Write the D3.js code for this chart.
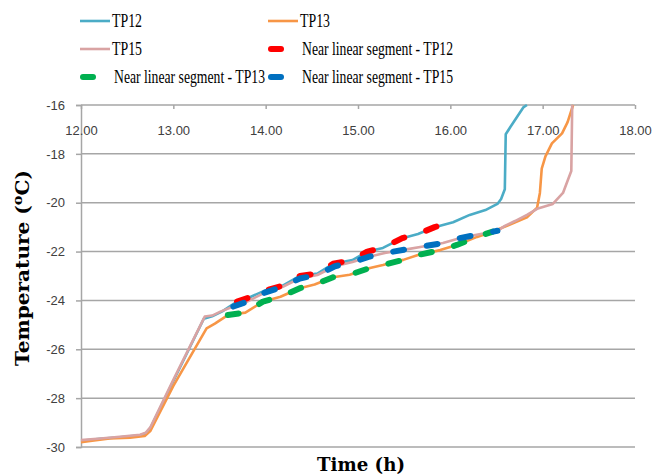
<!DOCTYPE html>
<html>
<head>
<meta charset="utf-8">
<script src="https://cdn.jsdelivr.net/npm/d3@7"></script>
<style>
  body { margin: 0; background: #fff; }
  svg { display: block; }
</style>
</head>
<body>
<script>
var w = 656;
var h = 476;

// temperature probes: [time (h), temperature (oC)]
var tp12 = [
    [12.00, -29.75], [12.21, -29.66], [12.42, -29.60], [12.64, -29.52], [12.70, -29.45],
    [12.75, -29.25], [13.00, -27.30], [13.33, -24.75], [13.42, -24.65], [13.53, -24.45],
    [13.69, -24.05], [13.81, -23.90], [13.99, -23.60], [14.18, -23.40], [14.37, -23.00],
    [14.56, -22.90], [14.73, -22.50], [14.94, -22.35], [15.10, -22.00], [15.27, -21.85],
    [15.48, -21.45], [15.65, -21.28], [15.83, -21.00], [16.03, -20.80], [16.21, -20.50],
    [16.38, -20.30], [16.51, -20.05], [16.55, -19.85], [16.59, -19.45], [16.60, -17.20],
    [16.65, -16.90], [16.72, -16.50], [16.79, -16.10], [16.83, -16.00]
];
var tp13 = [
    [12.00, -29.80], [12.10, -29.75], [12.31, -29.65], [12.53, -29.62], [12.69, -29.55],
    [12.75, -29.35], [13.00, -27.50], [13.36, -25.14], [13.45, -24.95], [13.59, -24.60],
    [13.78, -24.50], [13.97, -24.05], [14.16, -23.85], [14.37, -23.50], [14.53, -23.35],
    [14.73, -23.05], [14.91, -22.95], [15.13, -22.67], [15.27, -22.55], [15.49, -22.34],
    [15.65, -22.14], [15.89, -21.94], [16.07, -21.73], [16.29, -21.40], [16.46, -21.18],
    [16.64, -20.90], [16.83, -20.60], [16.94, -20.20], [16.97, -19.60], [16.99, -18.60],
    [17.03, -18.10], [17.10, -17.57], [17.21, -17.16], [17.27, -16.70], [17.33, -16.00]
];
var tp15 = [
    [12.00, -29.72], [12.21, -29.65], [12.42, -29.58], [12.64, -29.50], [12.70, -29.42],
    [12.75, -29.20], [13.00, -27.25], [13.34, -24.66], [13.42, -24.62], [13.51, -24.46],
    [13.65, -24.25], [13.80, -24.05], [13.99, -23.68], [14.18, -23.45], [14.37, -23.10],
    [14.56, -22.96], [14.75, -22.60], [14.94, -22.43], [15.13, -22.20], [15.29, -22.06],
    [15.54, -21.90], [15.69, -21.80], [15.92, -21.65], [16.10, -21.45], [16.30, -21.30],
    [16.51, -21.15], [16.59, -20.95], [16.70, -20.75], [16.83, -20.50], [16.94, -20.25],
    [17.11, -20.05], [17.22, -19.60], [17.27, -19.10], [17.31, -18.70], [17.32, -16.00]
];

// near linear segments (time window on each probe)
var segStart = [13.65, 13.59, 13.65];
var segEnd = [16.03, 16.46, 16.51];

var seriesNames = ["TP12", "TP13", "TP15"];
var seriesColors = ["#4bacc6", "#f79646", "#d9a3a3"];
var segColors = ["#ff0000", "#00b050", "#0070c0"];

var xTicks = [12, 13, 14, 15, 16, 17, 18];
var yTicks = [-30, -28, -26, -24, -22, -20, -18, -16];

var svg = d3.select("body")
    .append("svg")
    .attr("width", w)
    .attr("height", h);

var xScale = d3.scaleLinear()
    .domain([12, 18])
    .range([81, 635]);

var yScale = d3.scaleLinear()
    .domain([-30, -16])
    .range([447, 105]);

// horizontal gridlines
svg.selectAll("line.grid")
    .data(yTicks)
    .enter()
    .append("line")
    .attr("class", "grid")
    .attr("x1", xScale(12))
    .attr("x2", xScale(18))
    .attr("y1", function(d) { return yScale(d); })
    .attr("y2", function(d) { return yScale(d); })
    .attr("stroke", "#a6a6a6")
    .attr("stroke-width", 1.5);

// y axis on the left
var yAxis = svg.append("g")
    .attr("transform", "translate(" + xScale(12) + ",0)")
    .call(d3.axisLeft(yScale)
        .tickValues(yTicks)
        .tickSize(5)
        .tickPadding(11)
        .tickFormat(function(d) { return String(d); }));
yAxis.select(".domain").attr("stroke", "#a6a6a6").attr("stroke-width", 1.5);
yAxis.selectAll(".tick line").attr("stroke", "#a6a6a6").attr("stroke-width", 1.5);
yAxis.selectAll("text")
    .attr("fill", "#404040")
    .style("font-family", "'Liberation Sans', Arial, sans-serif")
    .style("font-size", "13px");

// x axis sits at the top (-16 line), labels just below it
var xAxis = svg.append("g")
    .attr("transform", "translate(0," + yScale(-16) + ")")
    .call(d3.axisBottom(xScale)
        .tickValues(xTicks)
        .tickSize(4)
        .tickPadding(17)
        .tickFormat(d3.format(".2f")));
xAxis.select(".domain").remove();
xAxis.selectAll(".tick line").attr("stroke", "#a6a6a6").attr("stroke-width", 1.5);
xAxis.selectAll("text")
    .attr("fill", "#404040")
    .style("font-family", "'Liberation Sans', Arial, sans-serif")
    .style("font-size", "13px");

var line = d3.line()
    .x(function(d) { return xScale(d[0]); })
    .y(function(d) { return yScale(d[1]); });

var allSeries = [tp12, tp13, tp15];

// draw order: TP12, TP13, TP15 on top
svg.selectAll("path.series")
    .data(allSeries)
    .enter()
    .append("path")
    .attr("class", "series")
    .attr("d", line)
    .attr("fill", "none")
    .attr("stroke", function(d, i) { return seriesColors[i]; })
    .attr("stroke-width", 2.6)
    .attr("stroke-linejoin", "round");

// dashed near-linear overlays
svg.selectAll("path.seg")
    .data(allSeries)
    .enter()
    .append("path")
    .attr("class", "seg")
    .attr("d", function(d, i) {
        return line(d.filter(function(p) {
            return p[0] >= segStart[i] && p[0] <= segEnd[i];
        }));
    })
    .attr("fill", "none")
    .attr("stroke", function(d, i) { return segColors[i]; })
    .attr("stroke-width", 6)
    .attr("stroke-linecap", "round")
    .attr("stroke-linejoin", "round")
    .attr("stroke-dasharray", "11,23");

// legend
var legendItems = [
    {label: "TP12", color: seriesColors[0], kind: "line", x: 80, y: 21},
    {label: "TP13", color: seriesColors[1], kind: "line", x: 268, y: 21},
    {label: "TP15", color: seriesColors[2], kind: "line", x: 80, y: 49},
    {label: "Near linear segment - TP12", color: segColors[0], kind: "seg", x: 268, y: 49},
    {label: "Near linear segment - TP13", color: segColors[1], kind: "seg", x: 80, y: 77},
    {label: "Near linear segment - TP15", color: segColors[2], kind: "seg", x: 268, y: 77}
];

var leg = svg.selectAll("g.legend")
    .data(legendItems)
    .enter()
    .append("g")
    .attr("class", "legend")
    .attr("transform", function(d) { return "translate(" + d.x + "," + d.y + ")"; });

leg.append("line")
    .attr("x1", function(d) { return d.kind == "line" ? 0 : 3; })
    .attr("x2", function(d) { return d.kind == "line" ? 30 : 13; })
    .attr("y1", 0)
    .attr("y2", 0)
    .attr("stroke", function(d) { return d.color; })
    .attr("stroke-width", function(d) { return d.kind == "line" ? 2.6 : 6; })
    .attr("stroke-linecap", function(d) { return d.kind == "line" ? "butt" : "round"; });

leg.append("text")
    .attr("x", function(d) { return d.kind == "line" ? 32 : 34; })
    .attr("y", 6)
    .attr("textLength", function(d) { return d.kind == "line" ? 30 : 151; })
    .attr("lengthAdjust", "spacingAndGlyphs")
    .style("font-family", "'Liberation Serif', 'Times New Roman', serif")
    .style("font-size", "18px")
    .attr("fill", "#000")
    .text(function(d) { return d.label; });

// axis titles
var yTitle = svg.append("text")
    .attr("transform", "translate(29,268) rotate(-90)")
    .attr("text-anchor", "middle")
    .attr("textLength", 196)
    .attr("lengthAdjust", "spacingAndGlyphs")
    .style("font-family", "'DejaVu Serif', serif")
    .style("font-weight", "bold")
    .style("font-size", "18px")
    .attr("fill", "#000");
yTitle.append("tspan").text("Temperature (");
yTitle.append("tspan").attr("baseline-shift", "super").style("font-size", "13px").text("o");
yTitle.append("tspan").text("C)");

svg.append("text")
    .attr("x", 361)
    .attr("y", 471)
    .attr("text-anchor", "middle")
    .attr("textLength", 88)
    .attr("lengthAdjust", "spacingAndGlyphs")
    .style("font-family", "'DejaVu Serif', serif")
    .style("font-weight", "bold")
    .style("font-size", "18px")
    .attr("fill", "#000")
    .text("Time (h)");
</script>
</body>
</html>
